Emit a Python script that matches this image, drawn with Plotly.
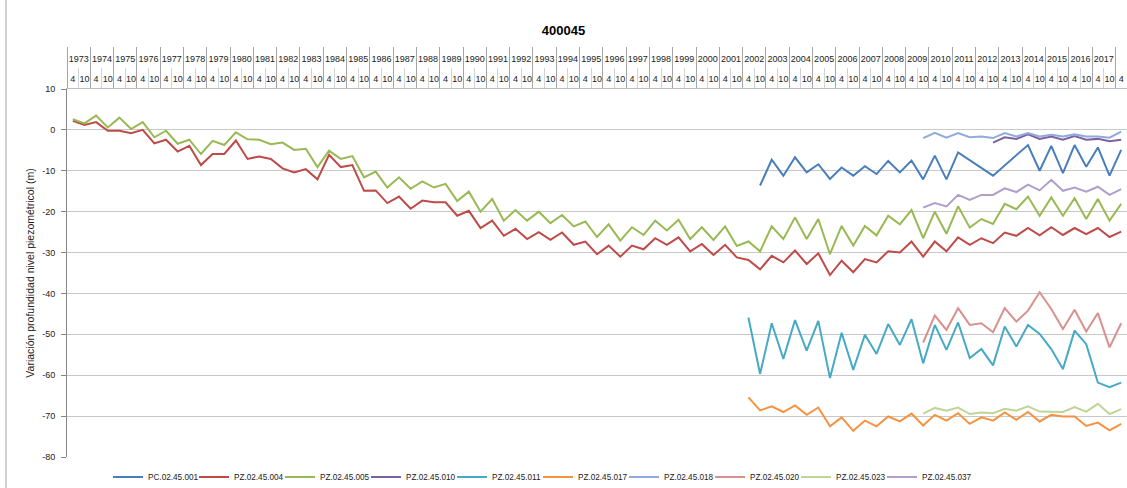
import plotly.graph_objects as go

# categories: year / month of the measurement campaign
YEARS = list(range(1973, 2019))
MONTHS = ["4", "10"]

# variation of piezometric depth (m), one value per campaign, None = no data
PC_02_45_001 = [None] * 59 + [
    -13.6, -7.3, -11.2, -6.7, -10.4, -8.4, -12.0, -9.2, -11.2, -8.9, -10.8,
    -7.6, -10.4, -7.5, -12.1, -6.3, -12.1, -5.5, None, None, -11.2, None,
    None, -3.7, -10.0, -3.9, -10.6, -3.7, -9.0, -4.3, -11.2, -4.9,
]
PZ_02_45_004 = [
    2.2, 1.2, 1.9, -0.2, -0.2, -0.8, 0.0, -3.3, -2.4, -5.3, -3.9, -8.6, -5.9,
    -5.9, -2.6, -7.1, -6.5, -7.1, -9.4, -10.4, -9.6, -12.1, -6.1, -9.1, -8.6,
    -14.9, -14.8, -17.9, -16.3, -19.3, -17.3, -17.7, -17.7, -21.0, -19.8,
    -24.0, -22.2, -25.9, -24.2, -26.7, -25.0, -26.9, -25.1, -28.1, -27.3,
    -30.4, -28.3, -31.0, -28.3, -29.2, -26.5, -28.1, -26.3, -29.7, -27.9,
    -30.6, -28.1, -31.2, -31.8, -34.1, -30.8, -32.4, -29.5, -32.8, -30.2,
    -35.5, -32.0, -34.8, -31.6, -32.4, -29.7, -30.0, -27.3, -31.0, -27.3,
    -29.7, -26.3, -28.1, -26.5, -27.7, -25.1, -25.9, -24.0, -25.8, -23.8,
    -25.7, -24.0, -25.5, -24.0, -26.2, -24.9,
]
PZ_02_45_005 = [
    2.6, 1.6, 3.5, 0.6, 3.0, 0.2, 1.9, -1.8, -0.2, -3.4, -2.4, -5.9, -2.7,
    -3.7, -0.6, -2.3, -2.4, -3.5, -3.1, -4.9, -4.6, -9.1, -5.1, -7.1, -6.4,
    -11.6, -10.2, -14.1, -11.6, -14.4, -12.6, -14.1, -13.2, -17.4, -15.1,
    -20.0, -16.9, -22.2, -19.6, -22.2, -20.0, -22.8, -20.8, -23.6, -22.4,
    -26.2, -23.1, -27.1, -23.8, -25.7, -22.2, -24.6, -22.0, -26.7, -23.8,
    -26.9, -23.6, -28.4, -27.3, -29.7, -23.6, -26.7, -21.4, -26.7, -21.8,
    -30.4, -23.5, -28.3, -23.5, -25.8, -21.0, -23.1, -19.6, -26.5, -20.0,
    -25.4, -18.7, -23.9, -21.8, -23.0, -18.1, -19.4, -16.3, -21.0, -16.5,
    -21.0, -16.7, -21.8, -16.9, -22.2, -18.1,
]
PZ_02_45_010 = [None] * 79 + [
    -3.1, -1.8, -2.2, -1.1, -2.2, -1.6, -2.4, -1.5, -2.4, -2.2, -2.8, -2.4,
]
PZ_02_45_011 = [None] * 58 + [
    -45.9, -59.7, -47.3, -56.0, -46.5, -54.0, -46.7, -60.7, -49.6, -58.7,
    -50.1, -54.8, -47.5, -52.6, -46.3, -57.1, -47.7, -53.8, -47.1, -55.8,
    -53.6, -57.6, -48.1, -53.0, -47.7, -49.9, -53.6, -58.5, -49.1, -52.4,
    -61.8, -62.9, -61.8,
]
PZ_02_45_017 = [None] * 58 + [
    -65.4, -68.6, -67.6, -69.0, -67.4, -69.7, -67.9, -72.5, -70.3, -73.6,
    -71.1, -72.5, -70.1, -71.3, -69.4, -72.3, -69.7, -71.1, -69.3, -71.9,
    -70.3, -71.1, -69.1, -70.9, -69.0, -71.3, -69.7, -70.1, -70.1, -72.4,
    -71.6, -73.5, -71.9,
]
PZ_02_45_018 = [None] * 73 + [
    -2.0, -0.7, -1.9, -0.8, -1.8, -1.6, -2.0, -0.8, -1.6, -0.8, -1.6, -1.2,
    -1.6, -1.1, -1.6, -1.6, -1.9, -0.4,
]
PZ_02_45_020 = [None] * 73 + [
    -52.0, -45.4, -48.9, -43.6, -47.7, -47.3, -49.5, -43.6, -46.9, -44.2,
    -39.7, -43.8, -48.7, -44.0, -49.3, -44.8, -53.2, -47.3,
]
PZ_02_45_023 = [None] * 73 + [
    -69.4, -68.0, -68.7, -67.9, -69.5, -69.1, -69.3, -68.2, -68.7, -67.6,
    -68.9, -68.9, -69.0, -67.8, -68.9, -67.0, -69.5, -68.3,
]
PZ_02_45_037 = [None] * 73 + [
    -19.0, -17.9, -18.7, -15.9, -17.1, -15.9, -15.9, -14.3, -15.2, -13.4,
    -14.8, -12.2, -14.9, -14.1, -15.1, -13.9, -15.9, -14.5,
]

Y_TICKS = list(range(10, -81, -10))

SERIES = [
    ("PC.02.45.001", PC_02_45_001, "#4A7EBB"),
    ("PZ.02.45.004", PZ_02_45_004, "#BE4B48"),
    ("PZ.02.45.005", PZ_02_45_005, "#98B954"),
    ("PZ.02.45.010", PZ_02_45_010, "#7D60A0"),
    ("PZ.02.45.011", PZ_02_45_011, "#46AAC5"),
    ("PZ.02.45.017", PZ_02_45_017, "#F69240"),
    ("PZ.02.45.018", PZ_02_45_018, "#8FAADC"),
    ("PZ.02.45.020", PZ_02_45_020, "#D7918E"),
    ("PZ.02.45.023", PZ_02_45_023, "#BFD596"),
    ("PZ.02.45.037", PZ_02_45_037, "#AE9FCB"),
]

FONT = "Liberation Sans, Arial, sans-serif"
TXT = "#222222"

x_year, x_month = [], []
for y in YEARS:
    for m in MONTHS:
        x_year.append(str(y))
        x_month.append(m)
n = len(PZ_02_45_004)
x_year, x_month = x_year[:n], x_month[:n]
x_cat = [x_year, x_month]

# positions on the category scale for the two-level header
month_pos = list(range(n))
month_seps = [i + 0.5 for i in range(n - 1) if x_year[i] == x_year[i + 1]]
year_names = list(dict.fromkeys(x_year))
year_pos = [sum(i for i in range(n) if x_year[i] == yn) /
            x_year.count(yn) for yn in year_names]
year_seps = [-0.5] + [i - 0.5 for i in range(1, n) if x_year[i] != x_year[i - 1]]

fig = go.Figure()
for name, values, color in SERIES:
    fig.add_trace(go.Scatter(
        x=x_cat, y=values, mode="lines", name=name,
        line=dict(color=color, width=2), connectgaps=True,
    ))
# empty legend slot so the last legend label is not clipped
fig.add_trace(go.Scatter(x=x_cat, y=[None] * n, mode="lines", name="",
                         line=dict(width=0, color="rgba(0,0,0,0)"), hoverinfo="skip"))
# empty traces that carry the header axes (months / years)
for ax in ("x2", "x3"):
    fig.add_trace(go.Scatter(x=month_pos, y=[None] * n, mode="lines", xaxis=ax,
                             showlegend=False, hoverinfo="skip",
                             line=dict(width=0, color="rgba(0,0,0,0)")))

header = dict(overlaying="x", anchor="y", side="top", type="linear", visible=True,
              range=[-0.5, n - 0.5], showgrid=False, showline=False, zeroline=False,
              automargin=False, ticks="", tickangle=0, tickfont=dict(size=9, color=TXT))

fig.update_layout(
    width=1127, height=488,
    margin=dict(l=67, r=0, t=89, b=31),
    paper_bgcolor="white", plot_bgcolor="white",
    font=dict(family=FONT, size=9, color=TXT),
    title=dict(text="<b>400045</b>", x=0.5, xref="container", xanchor="center",
               y=1 - 30 / 488, yref="container", yanchor="middle",
               font=dict(size=13, color="#000000")),
    xaxis=dict(
        type="multicategory", side="top", range=[-0.5, n - 0.5],
        showticklabels=False, ticks="", showdividers=False, automargin=False,
        showgrid=False, showline=True, linecolor="#BFBFBF",
    ),
    xaxis2=dict(header, tickvals=month_pos, ticktext=x_month, ticklabelstandoff=4,
                minor=dict(tickvals=month_seps, ticks="outside", ticklen=20,
                           tickcolor="#D4D4D4", tickwidth=1)),
    xaxis3=dict(header, tickvals=year_pos, ticktext=year_names, ticklabelstandoff=24,
                minor=dict(tickvals=year_seps, ticks="outside", ticklen=41,
                           tickcolor="#A6A6A6", tickwidth=1)),
    yaxis=dict(
        range=[-80, 10], tickvals=Y_TICKS, ticktext=[str(v) for v in Y_TICKS],
        showgrid=True, gridcolor="#C8C8C8", gridwidth=1, zeroline=False,
        showline=True, linecolor="#868686", ticks="outside", ticklen=5,
        tickcolor="#868686", tickfont=dict(size=9, color=TXT),
        ticklabelstandoff=4, automargin=False,
        title=dict(text="Variación profundidad nivel piezométricol (m)",
                   standoff=5, font=dict(size=10.5, color=TXT)),
    ),
    legend=dict(
        orientation="h", xref="container", yref="container",
        x=108 / 1127, y=(488 - 477) / 488, xanchor="left", yanchor="middle",
        entrywidth=41, entrywidthmode="pixels", font=dict(size=8.2, color=TXT),
        itemwidth=30,
    ),
    shapes=[dict(type="line", xref="paper", yref="paper",
                 x0=(6 - 67) / 1060, x1=(6 - 67) / 1060, y0=-31 / 368, y1=89 / 368 + 1,
                 line=dict(color="#A6A6A6", width=1))],
)

fig.write_html("out.html", config={"displayModeBar": False},
               post_script="document.body.style.margin='0';")
